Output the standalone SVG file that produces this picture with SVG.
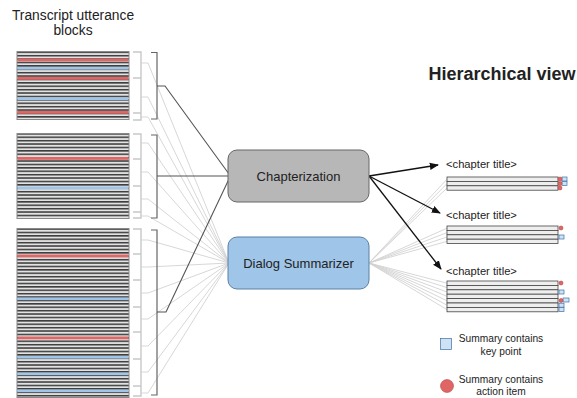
<svg xmlns="http://www.w3.org/2000/svg" width="577" height="398" viewBox="0 0 577 398">
<defs>
<style>
.t{font-family:"Liberation Sans",Arial,sans-serif;fill:#222}
.blk{stroke:#888;stroke-width:1;fill:url(#utt)}
.red{fill:#e06666}
.blue{fill:#9fc5e8}
.lb{fill:none;stroke:#c8c8c8;stroke-width:1.4}
.db{fill:none;stroke:#666;stroke-width:1.2}
.ll{fill:none;stroke:#d2d2d2;stroke-width:0.9}
.dl{fill:none;stroke:#555;stroke-width:1.1}
.ar{fill:none;stroke:#111;stroke-width:1.3;marker-end:url(#ah)}
.row{fill:#eeeeee;stroke:#444;stroke-width:0.8}
.kp{fill:#cfe2f3;stroke:#3d6fa8;stroke-width:0.7}
.ai{fill:#e06666;stroke:#a33;stroke-width:0.5}
</style>
<pattern id="utt" patternUnits="userSpaceOnUse" x="0" y="51.5" width="10" height="3.4">
<rect width="10" height="3.4" fill="#e2e2e2"/>
<rect width="10" height="1.5" fill="#3a3a3a"/>
</pattern>
<marker id="ah" viewBox="0 0 10 10" refX="9" refY="5" markerWidth="7" markerHeight="7" orient="auto">
<path d="M0,1 L10,5 L0,9z" fill="#111"/>
</marker>
</defs>
<rect width="577" height="398" fill="#fff"/>

<g id="title-left">
<text class="t" x="73" y="20" font-size="13.8" text-anchor="middle">Transcript utterance</text>
<text class="t" x="73" y="35" font-size="13.8" text-anchor="middle">blocks</text>
</g>
<g id="title-right">
<text class="t" x="502" y="80" font-size="18" font-weight="bold" text-anchor="middle">Hierarchical view</text>
</g>

<g id="block1">
<rect class="blk" x="17" y="51.5" width="112" height="68"/>
<rect class="red" x="17.5" y="58.5" width="111" height="2.8"/>
<rect class="blue" x="17.5" y="67" width="111" height="2.6"/>
<rect class="red" x="17.5" y="77" width="111" height="2.8"/>
<rect class="blue" x="17.5" y="97.5" width="111" height="2.6"/>
<rect class="red" x="17.5" y="111" width="111" height="2.8"/>
</g>
<g id="block2">
<rect class="blk" x="17" y="133.5" width="112" height="85"/>
<rect class="red" x="17.5" y="157" width="111" height="2.8"/>
<rect class="blue" x="17.5" y="186.5" width="111" height="2.6"/>
</g>
<g id="block3">
<rect class="blk" x="17" y="228.5" width="112" height="169"/>
<rect class="red" x="17.5" y="254.5" width="111" height="2.8"/>
<rect class="blue" x="17.5" y="297.5" width="111" height="2.6"/>
<rect class="red" x="17.5" y="336.5" width="111" height="2.8"/>
<rect class="blue" x="17.5" y="356" width="111" height="2.6"/>
<rect class="blue" x="17.5" y="372.5" width="111" height="2.6"/>
<rect class="blue" x="17.5" y="389.5" width="111" height="2.6"/>
</g>

<g id="connectors">
<path class="lb" d="M133,52 H141 V78 H133 M141,78 V113 H133 M141,113 V120 H133"/>
<path class="lb" d="M133,134 H141 V159 H133 M141,159 V186 H133 M141,186 V212 H133 M141,212 V218 H133"/>
<path class="lb" d="M133,229 H141 V254 H133 M141,254 V280 H133 M141,280 V307 H133 M141,307 V332 H133 M141,332 V359 H133 M141,359 V386 H133 M141,386 V396 H133"/>
<path class="ll" d="M141,63 H148 L229,263 M141,97 H148 L229,263 M141,117 H148 L229,263"/>
<path class="ll" d="M141,143 H148 L229,263 M141,172 H148 L229,263 M141,199 H148 L229,263 M141,216 H148 L229,263"/>
<path class="ll" d="M141,240 H148 L229,263 M141,267 H148 L229,263 M141,293 H148 L229,263 M141,319 H148 L229,263 M141,346 H148 L229,263 M141,372 H148 L229,263 M141,393 H148 L229,263"/>
<path class="db" d="M151,52.5 H157 V119 H151"/>
<path class="db" d="M151,135 H157 V218 H151"/>
<path class="db" d="M151,230 H157 V395 H151"/>
<path class="dl" d="M157,86 H165 L229,174"/>
<path class="dl" d="M157,176 H165 L229,176"/>
<path class="dl" d="M157,312 H166 L229,179"/>
<path class="ll" d="M369,263 L447,179.2 M369,263 L447,183.6 M369,263 L447,188 M369,263 L447,228.2 M369,263 L447,232.6 M369,263 L447,237 M369,263 L447,241.4 M369,263 L447,283.2 M369,263 L447,287.6 M369,263 L447,292 M369,263 L447,296.4 M369,263 L447,300.8 M369,263 L447,305.2 M369,263 L447,309.6"/>
<path class="ar" d="M369,176 L438,165"/>
<path class="ar" d="M369,176 L440,213"/>
<path class="ar" d="M369,176 L441,269"/>
</g>

<g id="chapterization">
<rect x="228" y="150" width="141" height="52" rx="9" fill="#b7b7b7" stroke="#666" stroke-width="1"/>
<text class="t" x="298.5" y="180.5" font-size="13" text-anchor="middle">Chapterization</text>
</g>
<g id="dialog-summarizer">
<rect x="228" y="237" width="141" height="52" rx="9" fill="#9fc5e8" stroke="#5b7fa6" stroke-width="1"/>
<text class="t" x="298.5" y="268" font-size="13" text-anchor="middle">Dialog Summarizer</text>
</g>

<g id="chapter1">
<text class="t" x="446" y="168" font-size="11.2">&lt;chapter title&gt;</text>
<rect class="row" x="447" y="177" width="111" height="4.4"/>
<rect class="row" x="447" y="181.4" width="111" height="4.4"/>
<rect class="row" x="447" y="185.8" width="111" height="4.4"/>
<rect class="kp" x="562" y="177" width="5" height="4"/>
<rect class="kp" x="562" y="181.5" width="5" height="4"/>
<circle class="ai" cx="560" cy="179" r="2"/>
<circle class="ai" cx="560" cy="183.6" r="2"/>
<circle class="ai" cx="560" cy="188" r="2"/>
</g>
<g id="chapter2">
<text class="t" x="446" y="219" font-size="11.2">&lt;chapter title&gt;</text>
<rect class="row" x="447" y="226" width="111" height="4.4"/>
<rect class="row" x="447" y="230.4" width="111" height="4.4"/>
<rect class="row" x="447" y="234.8" width="111" height="4.4"/>
<rect class="row" x="447" y="239.2" width="111" height="4.4"/>
<circle class="ai" cx="561" cy="228" r="2"/>
<rect class="kp" x="559" y="235" width="5" height="4"/>
</g>
<g id="chapter3">
<text class="t" x="446" y="275" font-size="11.2">&lt;chapter title&gt;</text>
<rect class="row" x="447" y="281" width="111" height="4.4"/>
<rect class="row" x="447" y="285.4" width="111" height="4.4"/>
<rect class="row" x="447" y="289.8" width="111" height="4.4"/>
<rect class="row" x="447" y="294.2" width="111" height="4.4"/>
<rect class="row" x="447" y="298.6" width="111" height="4.4"/>
<rect class="row" x="447" y="303" width="111" height="4.4"/>
<rect class="row" x="447" y="307.4" width="111" height="4.4"/>
<circle class="ai" cx="561" cy="283" r="2"/>
<rect class="kp" x="559" y="290" width="5" height="4"/>
<rect class="kp" x="563" y="298" width="6" height="4"/>
<circle class="ai" cx="561" cy="300.5" r="2"/>
<rect class="kp" x="559" y="303.2" width="5" height="4"/>
<rect class="kp" x="559" y="307.6" width="5" height="4"/>
</g>

<g id="legend-keypoint">
<rect class="kp" x="440.5" y="338.5" width="11" height="11" stroke-width="1"/>
<text class="t" x="501" y="342" font-size="10.2" text-anchor="middle">Summary contains</text>
<text class="t" x="501" y="355" font-size="10.2" text-anchor="middle">key point</text>
</g>
<g id="legend-actionitem">
<circle class="ai" cx="447" cy="386" r="6.5" stroke-width="0.8"/>
<text class="t" x="501" y="383" font-size="10.2" text-anchor="middle">Summary contains</text>
<text class="t" x="501" y="395" font-size="10.2" text-anchor="middle">action item</text>
</g>
</svg>
